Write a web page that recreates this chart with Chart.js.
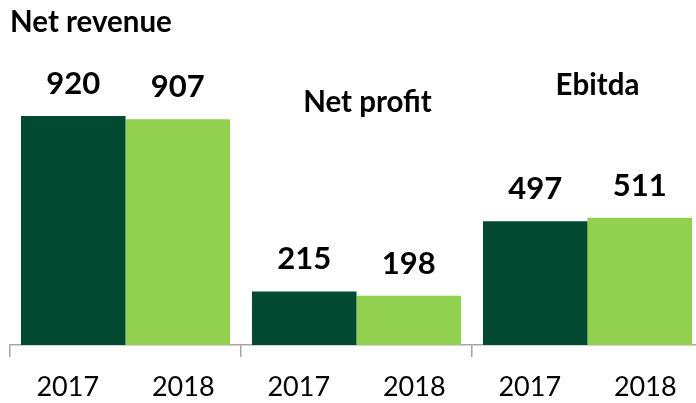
<!DOCTYPE html>
<html>
<head>
<meta charset="utf-8">
<script src="https://cdn.jsdelivr.net/npm/chart.js@4.4.1/dist/chart.umd.min.js"></script>
<style>
  html, body { margin: 0; padding: 0; background: #fff; overflow: hidden; }
  #wrap { width: 706px; height: 403px; }
</style>
</head>
<body>
<div id="wrap"><canvas id="kpiChart" width="706" height="403"></canvas></div>
<script>
//------ Data ------//
const groups = ['Net revenue', 'Net profit', 'Ebitda'];
const years = ['2017', '2018'];
const values2017 = [920, 215, 497];
const values2018 = [907, 198, 511];
const yearTicks = ['2017', '2018', '2017', '2018', '2017', '2018'];

const darkGreen = '#024A32';
const lightGreen = '#92D050';
const axisGrey = '#A6A6A6';
const fontFamily = 'Lato, "Open Sans", sans-serif';

//------ Value labels above each bar ------//
const valueLabels = {
  id: 'valueLabels',
  afterDatasetsDraw(chart, args, opts) {
    const ctx = chart.ctx;
    ctx.save();
    ctx.font = `bold ${opts.size}px ${fontFamily}`;
    ctx.fillStyle = '#000';
    ctx.textAlign = 'center';
    ctx.textBaseline = 'alphabetic';
    chart.data.datasets.forEach((ds, i) => {
      chart.getDatasetMeta(i).data.forEach((bar, j) => {
        ctx.fillText(String(ds.data[j]), bar.x, bar.y - opts.gap);
      });
    });
    ctx.restore();
  }
};

//------ Group titles ------//
const groupTitles = {
  id: 'groupTitles',
  afterDraw(chart, args, opts) {
    const ctx = chart.ctx;
    const xScale = chart.scales.x;
    ctx.save();
    ctx.font = `bold ${opts.size}px ${fontFamily}`;
    ctx.fillStyle = '#000';
    ctx.textBaseline = 'alphabetic';
    groups.forEach((name, i) => {
      const p = opts.place[i];
      ctx.textAlign = p.align;
      const x = p.align === 'left' ? xScale.left : xScale.getPixelForValue(i) + p.dx;
      ctx.fillText(name, x, p.baseline);
    });
    ctx.restore();
  }
};

//------ Chart ------//
const kpiChart = new Chart(document.getElementById('kpiChart'), {
  type: 'bar',
  data: {
    labels: groups,
    datasets: [{
      label: years[0],
      data: values2017,
      backgroundColor: darkGreen,
      categoryPercentage: 0.905,
      barPercentage: 1.0
    }, {
      label: years[1],
      data: values2018,
      backgroundColor: lightGreen,
      categoryPercentage: 0.905,
      barPercentage: 1.0
    }]
  },
  options: {
    responsive: false,
    animation: false,
    layout: { padding: { left: 10, right: 3, top: 0, bottom: 0 } },
    scales: {
      x: {
        offset: true,
        grid: {
          offset: true,
          drawOnChartArea: false,
          drawTicks: true,
          tickLength: 12,
          color: axisGrey,
          lineWidth: 1.5
        },
        border: { display: true, color: axisGrey, width: 1.5 },
        ticks: { display: false },
        afterFit(scale) { scale.height = 0; }
      },
      x2: {
        type: 'category',
        labels: yearTicks,
        position: 'bottom',
        offset: true,
        grid: { display: false, drawTicks: false },
        border: { display: false },
        ticks: {
          color: '#000',
          padding: 26,
          maxRotation: 0,
          autoSkip: false,
          font: { family: fontFamily, size: 27 }
        },
        afterFit(scale) { scale.height = 58; }
      },
      y: {
        display: false,
        min: 0,
        max: 1386
      }
    },
    plugins: {
      legend: { display: false },
      tooltip: { enabled: false },
      valueLabels: { size: 31, gap: 22 },
      groupTitles: {
        size: 29.5,
        place: [
          { align: 'left', dx: 0, baseline: 32 },
          { align: 'center', dx: 11, baseline: 112 },
          { align: 'center', dx: 10, baseline: 95 }
        ]
      }
    }
  },
  plugins: [valueLabels, groupTitles]
});
</script>
</body>
</html>
